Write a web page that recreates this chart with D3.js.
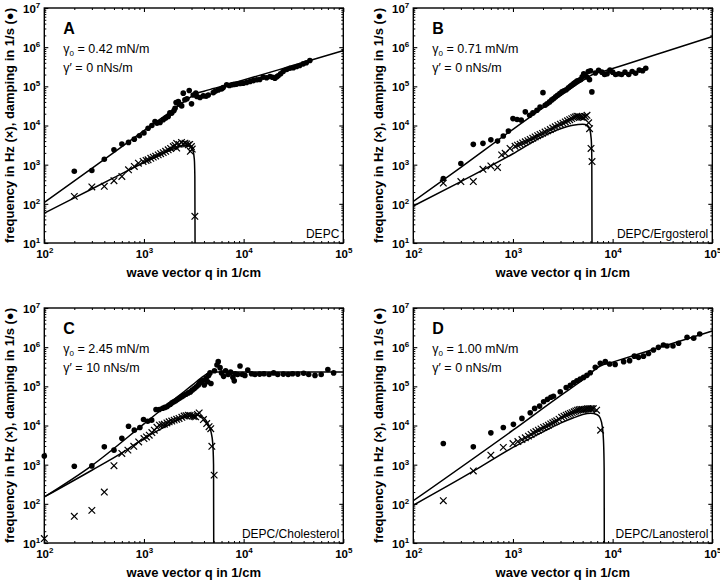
<!DOCTYPE html>
<html>
<head>
<meta charset="utf-8">
<title>damping and frequency vs wave vector</title>
<script src="https://cdn.jsdelivr.net/npm/d3@7"></script>
<style>
  body { margin: 0; background: #fff; }
  text { font-family: "Liberation Sans", Arial, sans-serif; fill: #000; }
</style>
</head>
<body>
<script>
// ---- data: [q in 1/cm, value] ----

// A: DEPC
const dotsA = [[200,680],[300,710],[400,1380],[500,2400],[600,3380],[700,3700],[800,4480],[900,5450],[1000,6470],
  [1100,8500],[1200,10000],[1290,12600],[1350,11500],[1450,11900],[1560,14000],[1650,15500],[1750,17000],[1820,21000],
  [1900,20700],[2000,24000],[2050,27600],[2100,38600],[2210,37000],[2210,40700],[2300,35000],[2390,31700],[2480,67000],
  [2575,45300],[2700,48000],[2845,78000],[3000,35700],[3120,60000],[3315,67000],[3400,55000],[3650,52000],[3940,57000],
  [4200,56000],[4420,60000],[4960,69000],[5200,75000],[5560,81000],[6000,86000],[6240,93000],[6760,110000],[7200,105000],
  [7580,110000],[8000,112000],[8500,114000],[9200,118000],[9900,120000],[10700,125000],[11600,133000],[12500,140000],
  [13500,147000],[14500,150000],[15700,172000],[17000,165000],[18400,178000],[19500,170000],[20600,162000],[21500,175000],
  [22200,186000],[23500,210000],[24900,240000],[27000,270000],[29100,290000],[31500,300000],[34000,320000],[36500,340000],
  [39600,375000],[42500,400000],[46200,457000]];
const crossA = [[200,155],[300,270],[400,280],[500,390],[600,500],[700,740],[800,900],[880,1090],[980,1210],[1050,1280],
  [1100,1330],[1170,1450],[1240,1560],[1310,1650],[1390,1780],[1470,1900],[1560,2030],[1650,2200],[1750,2400],[1850,2600],
  [1970,2900],[2050,3100],[2130,3500],[2130,2650],[2250,3300],[2380,3700],[2480,3400],[2580,3550],[2680,3400],[2780,3200],
  [2880,3300],[2920,2200],[2990,2900],[3050,2500],[3240,48]];
const dampFitA = [[100,108],[300,800],[1000,7400],[2000,26000],[3000,55000],[3400,66000],[4000,75000],[5000,88000],
  [7000,112000],[10000,145000],[30000,330000],[100000,820000]];
const freqFitA = [[100,58],[200,142],[500,465],[1000,1135],[1500,1850],[2000,2550],[2400,3000],[2700,3100],[2950,2850],
  [3100,2300],[3200,1400],[3240,500],[3255,10]];

// B: DEPC/Ergosterol
const dotsB = [[200,445],[300,1070],[400,3300],[500,3500],[600,4300],[700,4000],[800,5400],[900,7200],[1000,15000],
  [1100,14200],[1210,13700],[1330,22300],[1470,18300],[1585,21000],[1740,24500],[1870,29500],[2000,69000],[2100,33000],
  [2200,36000],[2330,40000],[2450,45000],[2560,49000],[2680,54000],[2800,59000],[2950,65000],[3100,72000],[3250,77000],
  [3420,82000],[3600,92000],[3760,100000],[3900,108000],[4070,117000],[4200,125000],[4380,136000],[4550,140000],
  [4760,148000],[4950,175000],[5130,210000],[5300,190000],[5520,173000],[5700,240000],[5860,148000],[6000,250000],
  [6190,72000],[6700,219000],[7230,257000],[7800,230000],[8300,200000],[8800,210000],[9400,260000],[10000,230000],
  [10700,200000],[11500,210000],[12300,200000],[13300,230000],[14500,200000],[15700,240000],[17000,215000],
  [18500,260000],[20000,250000],[21500,290000]];
const crossB = [[200,340],[300,370],[400,370],[500,760],[600,930],[700,850],[770,1780],[835,1950],[935,2600],[1050,2950],
  [1110,3150],[1180,3350],[1250,3600],[1330,3840],[1410,4100],[1490,4400],[1580,4750],[1670,5100],[1770,5500],[1870,5900],
  [1980,6300],[2100,6800],[2230,7300],[2370,7900],[2510,8600],[2660,9250],[2820,10000],[2990,10800],[3170,11500],
  [3350,12300],[3530,13200],[3710,14100],[3890,15000],[4070,15900],[4220,16500],[4380,17300],[4560,17000],[4740,16600],
  [4930,16300],[5120,16000],[5320,17000],[5530,18200],[5750,11700],[5870,8300],[6070,2600],[6210,1200]];
const dampFitB = [[100,115],[300,850],[1000,8000],[3000,58000],[5000,140000],[6300,200000],[8000,240000],
  [10000,285000],[30000,700000],[100000,1860000]];
const freqFitB = [[100,88],[300,370],[1000,1900],[2000,5300],[3000,8300],[4000,10200],[5000,10800],[5600,10000],
  [5900,8000],[6100,4500],[6180,1500],[6210,10]];

// C: DEPC/Cholesterol
const dotsC = [[100,1660],[200,910],[300,930],[400,2850],[500,2350],[600,4700],[700,9600],[800,7600],[910,8900],
  [990,14200],[1090,12800],[1195,13700],[1320,25700],[1425,25700],[1540,27500],[1620,29000],[1700,30000],[1770,33000],
  [1840,35000],[1910,38000],[1990,40500],[2080,43000],[2180,46500],[2280,50000],[2390,54000],[2500,58000],[2640,63000],
  [2780,68000],[2920,72000],[3050,80000],[3200,88000],[3350,98000],[3510,108000],[3600,120000],[3730,131000],
  [3900,140000],[4030,108000],[4200,160000],[4360,131000],[4450,190000],[4600,220000],[4700,118000],[5100,250000],
  [5400,350000],[5560,427000],[5800,300000],[6000,220000],[6300,180000],[6600,250000],[7000,200000],[7400,230000],
  [7800,170000],[8050,138000],[8200,210000],[8700,200000],[9200,330000],[9700,200000],[10300,190000],[11000,260000],
  [12000,210000],[13000,200000],[14500,205000],[16000,210000],[18000,200000],[20000,220000],[22000,200000],
  [25000,205000],[28000,200000],[31000,210000],[35000,205000],[40000,215000],[45000,200000],[52000,190000],
  [60000,200000],[70000,270000],[80000,220000]];
const crossC = [[100,13],[200,48],[300,68],[400,200],[500,940],[600,1930],[690,2350],[790,2950],[885,3800],[1000,4650],
  [1060,5100],[1130,5650],[1200,6600],[1270,7600],[1350,9000],[1430,10200],[1520,10500],[1600,10800],[1700,11600],
  [1790,12400],[1900,13000],[2010,13700],[2130,14400],[2250,15100],[2400,16200],[2530,17400],[2650,17800],[2780,18400],
  [2900,18000],[3060,17400],[3180,17000],[3300,16600],[3440,19000],[3580,21000],[3950,14200],[4260,11200],[4500,9300],
  [4680,8300],[4800,2950],[5060,540]];
const dampFitC = [[100,150],[300,950],[1000,11000],[2000,46000],[3000,104000],[4000,186000],[4400,218000],
  [4700,231000],[5200,233000],[100000,233000]];
const freqFitC = [[100,150],[300,720],[600,2000],[1000,4700],[1500,8300],[2000,12300],[2500,16000],[3000,17800],
  [3500,18200],[4000,15500],[4400,11000],[4700,7000],[4900,3500],[4990,1000],[5010,10]];

// D: DEPC/Lanosterol
const dotsD = [[200,3470],[400,2850],[600,6500],[800,8900],[1010,10700],[1230,15200],[1490,21100],[1650,27300],
  [1850,31300],[2030,40400],[2220,46500],[2400,52500],[2550,56000],[2980,72600],[3420,93700],[3760,107000],
  [4060,123000],[4380,139000],[4730,153000],[5110,169000],[5520,191000],[5970,223000],[6700,305000],[7520,386000],
  [8440,427000],[9330,372000],[10600,363000],[12900,427000],[14800,452000],[16500,590000],[18200,550000],
  [20400,590000],[22900,690000],[25700,850000],[28800,990000],[32300,1140000],[35100,1070000],[40300,1070000],
  [45900,1260000],[55800,1780000],[65100,1700000],[74800,2170000]];
const crossD = [[200,120],[400,690],[600,1740],[800,2760],[1000,3470],[1120,3900],[1230,4370],[1330,4850],[1430,5350],
  [1520,5900],[1610,6500],[1700,7000],[1800,7600],[1910,8200],[2030,8900],[2150,9500],[2270,10200],[2390,11000],
  [2510,11700],[2630,12400],[2750,13200],[2900,14500],[3080,16200],[3250,17300],[3420,18400],[3590,19300],[3760,20300],
  [3930,21300],[4110,22400],[4270,23500],[4440,24600],[4610,25100],[4790,25700],[4980,25700],[5180,25700],[5380,26200],
  [5590,26700],[5800,26800],[6030,27000],[6200,27000],[6400,27000],[6910,24600],[7570,7600]];
const dampFitD = [[100,120],[1000,7600],[3000,58000],[5000,145000],[7500,330000],[10000,415000],[30000,1000000],
  [100000,2600000]];
const freqFitD = [[100,92],[400,680],[1000,2750],[2000,6900],[3000,11500],[4000,15500],[5000,19000],[6000,20400],
  [7000,18800],[7500,15500],[7900,9000],[8100,4000],[8220,800],[8250,10]];

const panelLetters = ["A", "B", "C", "D"];
const gamma0 = ["0.42", "0.71", "2.45", "1.00"];
const gammaPrime = ["0", "0", "10", "0"];
const lipids = ["DEPC", "DEPC/Ergosterol", "DEPC/Cholesterol", "DEPC/Lanosterol"];

// ---- layout ----
const w = 720, h = 582;
const pw = 299, ph = 235;
const origins = [[44.3, 8], [413.3, 8], [44.3, 308], [413.3, 308]];

const panels = [
  { dots: dotsA, cross: crossA, damp: dampFitA, freq: freqFitA },
  { dots: dotsB, cross: crossB, damp: dampFitB, freq: freqFitB },
  { dots: dotsC, cross: crossC, damp: dampFitC, freq: freqFitC },
  { dots: dotsD, cross: crossD, damp: dampFitD, freq: freqFitD }
];

const svg = d3.select("body").append("svg")
  .attr("width", w)
  .attr("height", h);

const x = d3.scaleLog().domain([1e2, 1e5]).range([0, pw]);
const y = d3.scaleLog().domain([1e1, 1e7]).range([ph, 0]);

const majorX = [1e2, 1e3, 1e4, 1e5];
const majorY = [1e1, 1e2, 1e3, 1e4, 1e5, 1e6, 1e7];
const minorX = x.ticks().filter(t => !majorX.includes(t));
const minorY = y.ticks().filter(t => !majorY.includes(t));

const line = d3.line()
  .x(d => x(d[0]))
  .y(d => y(d[1]))
  .curve(d3.curveMonotoneX);

function powLabel(sel) {
  sel.each(function (d) {
    const t = d3.select(this);
    t.text("10");
    t.append("tspan")
      .attr("dy", "-5")
      .attr("font-size", "8px")
      .text(Math.round(Math.log10(d)));
  });
}

panels.forEach((p, i) => {
  const [ox, oy] = origins[i];
  const g = svg.append("g").attr("transform", "translate(" + ox + "," + oy + ")");

  g.append("clipPath").attr("id", "clip" + i)
    .append("rect").attr("width", pw).attr("height", ph);

  // ticks on all four sides, pointing inwards
  const axes = [
    [d3.axisBottom(x), "translate(0," + ph + ")", majorX, minorX],
    [d3.axisTop(x), "translate(0,0)", majorX, minorX],
    [d3.axisLeft(y), "translate(0,0)", majorY, minorY],
    [d3.axisRight(y), "translate(" + pw + ",0)", majorY, minorY]
  ];
  axes.forEach(([ax, tr, maj, min], k) => {
    const gm = g.append("g").attr("transform", tr)
      .call(ax.tickValues(maj).tickSize(-4).tickPadding(4).tickFormat(k === 0 || k === 2 ? null : ""));
    gm.select(".domain").remove();
    gm.selectAll("line").attr("stroke", "#000").attr("stroke-width", 1.1);
    const gn = g.append("g").attr("transform", tr)
      .call(ax.tickValues(min).tickSize(-2).tickFormat(""));
    gn.select(".domain").remove();
    gn.selectAll("line").attr("stroke", "#000").attr("stroke-width", 1);
    if (k === 0) {
      gm.selectAll("text")
        .attr("y", 15).attr("dy", null)
        .attr("font-size", "11.5px").attr("font-weight", "bold")
        .call(powLabel);
    }
    if (k === 2) {
      gm.selectAll("text")
        .attr("x", -4).attr("dy", "0.38em")
        .attr("font-size", "11.5px").attr("font-weight", "bold")
        .call(powLabel);
    }
  });

  // fit curves
  const curves = g.append("g").attr("clip-path", "url(#clip" + i + ")");
  [p.damp, p.freq].forEach(c => {
    curves.append("path")
      .datum(c)
      .attr("d", line)
      .attr("fill", "none")
      .attr("stroke", "#000")
      .attr("stroke-width", 1.5);
  });

  // damping: filled dots
  g.append("g").selectAll("circle")
    .data(p.dots)
    .enter()
    .append("circle")
    .attr("cx", d => x(d[0]))
    .attr("cy", d => y(d[1]))
    .attr("r", 2.8)
    .attr("fill", "#000");

  // frequency: crosses
  g.append("g").selectAll("path")
    .data(p.cross)
    .enter()
    .append("path")
    .attr("transform", d => "translate(" + x(d[0]) + "," + y(d[1]) + ")")
    .attr("d", "M-3.3,-3.3L3.3,3.3M-3.3,3.3L3.3,-3.3")
    .attr("stroke", "#000")
    .attr("stroke-width", 1.2)
    .attr("fill", "none");

  // frame
  g.append("rect")
    .attr("width", pw).attr("height", ph)
    .attr("fill", "none").attr("stroke", "#000").attr("stroke-width", 1.4);

  // texts in the panel
  g.append("text").attr("x", 19).attr("y", 26)
    .attr("font-size", "16px").attr("font-weight", "bold")
    .text(panelLetters[i]);

  const t0 = g.append("text").attr("x", 19).attr("y", 45).attr("font-size", "12.5px");
  t0.append("tspan").text("γ");
  t0.append("tspan").attr("dy", 3).attr("font-size", "8px").text("0");
  t0.append("tspan").attr("dy", -3).text(" = " + gamma0[i] + " mN/m");

  g.append("text").attr("x", 19).attr("y", 64).attr("font-size", "12.5px")
    .text("γ′ = " + gammaPrime[i] + " nNs/m");

  g.append("text").attr("x", pw - 4).attr("y", ph - 5)
    .attr("text-anchor", "end").attr("font-size", "12px")
    .text(lipids[i]);

  // axis titles
  g.append("text")
    .attr("x", pw / 2).attr("y", ph + 34)
    .attr("text-anchor", "middle")
    .attr("font-size", "13px").attr("font-weight", "bold")
    .text("wave vector q in 1/cm");

  g.append("text")
    .attr("transform", "translate(" + (-30) + "," + (ph / 2) + ") rotate(-90)")
    .attr("text-anchor", "middle")
    .attr("font-size", "13px").attr("font-weight", "bold")
    .text("frequency in Hz (×), damping in 1/s (●)");
});
</script>
</body>
</html>
